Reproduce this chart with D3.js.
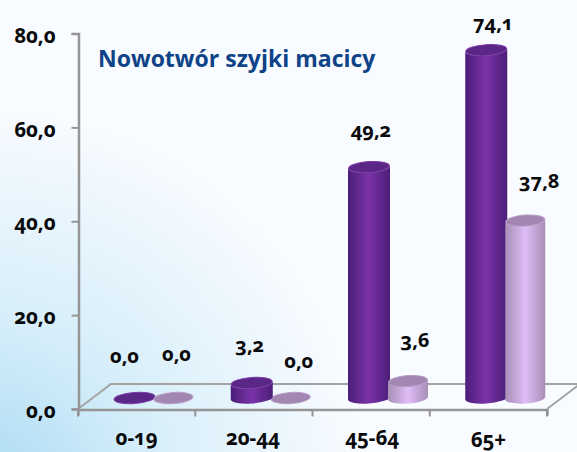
<!DOCTYPE html>
<html>
<head>
<meta charset="utf-8">
<script src="https://cdn.jsdelivr.net/npm/d3@7"></script>
<style>
  html, body { margin: 0; padding: 0; background: #f8fbff; overflow: hidden; }
  text { font-family: "Open Sans", Lato, sans-serif; font-weight: 700; font-variant-numeric: oldstyle-nums; fill: #0a0a0a; }
</style>
</head>
<body>
<div id="chart"></div>
<script>
const categories = ["0-19", "20-44", "45-64", "65+"];
const darkValues = [0.0, 3.2, 49.2, 74.1];
const lightValues = [0.0, 0.0, 3.6, 37.8];
const yTicks = [0, 20, 40, 60, 80];
const chartTitle = "Nowotwór szyjki macicy";

const W = 577, H = 452;
const svg = d3.select("#chart").append("svg").attr("width", W).attr("height", H).style("display", "block");
const defs = svg.append("defs");

// background glow, bottom left corner
const bg = defs.append("radialGradient").attr("id", "bg")
  .attr("gradientUnits", "userSpaceOnUse")
  .attr("cx", -20).attr("cy", 490).attr("r", 380);
bg.append("stop").attr("offset", "0%").attr("stop-color", "#a9daf3");
bg.append("stop").attr("offset", "45%").attr("stop-color", "#d6eefa");
bg.append("stop").attr("offset", "100%").attr("stop-color", "#f8fbff");
svg.append("rect").attr("width", W).attr("height", H).attr("fill", "url(#bg)");

function barGradient(id, edge, mid) {
  const g = defs.append("linearGradient").attr("id", id);
  g.append("stop").attr("offset", "0%").attr("stop-color", edge);
  g.append("stop").attr("offset", "50%").attr("stop-color", mid);
  g.append("stop").attr("offset", "100%").attr("stop-color", edge);
}
barGradient("darkBody", "#4b1e78", "#7a33a8");
barGradient("lightBody", "#a78fb6", "#dfbcf7");

// scales
const x = d3.scaleBand().domain(categories).range([78, 547]);
const y = d3.scaleLinear().domain([0, 80]).range([409, 33.5]);
const barOffset = d3.scalePoint().domain(["dark", "light"]).range([56.5, 95.5]);

// floor of the 3d box
const depthX = 33, depthY = -25;
const floor = d3.path();
floor.moveTo(x.range()[0], y(0));
floor.lineTo(x.range()[0] + depthX, y(0) + depthY);
floor.lineTo(x.range()[1] + depthX, y(0) + depthY);
floor.lineTo(x.range()[1], y(0));
svg.append("path").attr("d", floor.toString()).attr("fill", "none")
  .attr("stroke", "#a3a3a3").attr("stroke-width", 2);

// Axes
const yAxis = d3.axisLeft(y).tickValues(yTicks).tickSize(7).tickPadding(16)
  .tickFormat(d => d3.format(".1f")(d).replace(".", ","));
const gy = svg.append("g").attr("transform", "translate(78.5,0)").call(yAxis);

const xAxis = d3.axisBottom(x).tickSize(6).tickFormat(d => d);
const gx = svg.append("g").attr("transform", `translate(0,${y(0) + 0.5})`).call(xAxis);
gx.selectAll(".tick line").remove();
// 0-19, 20-44 and 45-64 hang below the baseline, keep them inside the page
gx.selectAll(".tick").select("text").attr("y", 0)
  .attr("dy", (d, i) => i == 3 ? 37 : 35)
  .attr("dx", (d, i) => [0, -1, 1, 0][i]);
gx.selectAll(".xtick").data(x.domain().map(d => x(d)).concat(x.range()[1]))
  .enter().append("line").attr("class", "xtick")
  .attr("x1", d => d).attr("x2", d => d).attr("y1", 0).attr("y2", 7)
  .attr("stroke", "#959595").attr("stroke-width", 2);

[gy, gx].forEach(g => {
  g.select(".domain").attr("stroke", "#959595").attr("stroke-width", 2.5);
  g.selectAll(".tick line").attr("stroke", "#959595").attr("stroke-width", 2);
  g.selectAll("text").style("font-size", "20.5px").attr("fill", "#0a0a0a");
});
gy.selectAll("text").attr("dy", "0.42em");

// cylinders
const tiltDeg = -4, ry = 5.5, floorGap = 11;
const looks = {
  dark: { rx: 21, body: "url(#darkBody)", top: "#5a2786", rim: "#7b3aa8" },
  light: { rx: 20, body: "url(#lightBody)", top: "#a287b3", rim: "#b89cc8" }
};

const rows = [];
categories.forEach((c, i) => {
  rows.push({ cat: c, s: "dark", v: darkValues[i] });
  rows.push({ cat: c, s: "light", v: lightValues[i] });
});
// flat discs go underneath, so neighbours overlap them
rows.sort((a, b) => (b.v == 0) - (a.v == 0) || d3.ascending(a.s, b.s));

const bars = svg.selectAll(".bar").data(rows).enter().append("g").attr("class", "bar");

function cx(d) { return x(d.cat) + barOffset(d.s); }
function bodyPath(d) {
  const l = looks[d.s];
  const t = l.rx * Math.sin(-tiltDeg * Math.PI / 180);
  const top = y(d.v) - floorGap, base = y(0) - floorGap;
  return `M${cx(d) - l.rx},${top + t} L${cx(d) - l.rx},${base + t} ` +
    `A${l.rx},${ry} ${tiltDeg} 0 0 ${cx(d) + l.rx},${base - t} L${cx(d) + l.rx},${top - t} ` +
    `A${l.rx},${ry} ${tiltDeg} 0 1 ${cx(d) - l.rx},${top + t} Z`;
}
bars.filter(d => d.v > 0).append("path").attr("d", bodyPath).attr("fill", d => looks[d.s].body);
bars.append("ellipse")
  .attr("rx", d => looks[d.s].rx - 0.5).attr("ry", ry)
  .attr("transform", d => `translate(${cx(d)},${y(d.v) - floorGap}) rotate(${tiltDeg})`)
  .attr("fill", d => looks[d.s].top)
  .attr("stroke", d => looks[d.s].rim).attr("stroke-width", 1);

// value labels sit by hand in the original, so nudge each one
const nudge = {
  "0-19dark": [-10, -46], "0-19light": [3, -48],
  "20-44dark": [-2, -42], "20-44light": [8, -41],
  "45-64dark": [2, -41], "45-64light": [7, -45],
  "65+dark": [7, -31], "65+light": [14, -44]
};
svg.selectAll(".val").data(rows).enter().append("text").attr("class", "val")
  .attr("x", d => cx(d) + nudge[d.cat + d.s][0])
  .attr("y", d => y(d.v) + nudge[d.cat + d.s][1])
  .attr("text-anchor", "middle")
  .style("font-size", "20px")
  .text(d => d3.format(".1f")(d.v).replace(".", ","));

svg.append("text").attr("x", 98).attr("y", 67)
  .style("font-size", "23px").style("fill", "#0f4388")
  .text(chartTitle);
</script>
</body>
</html>
